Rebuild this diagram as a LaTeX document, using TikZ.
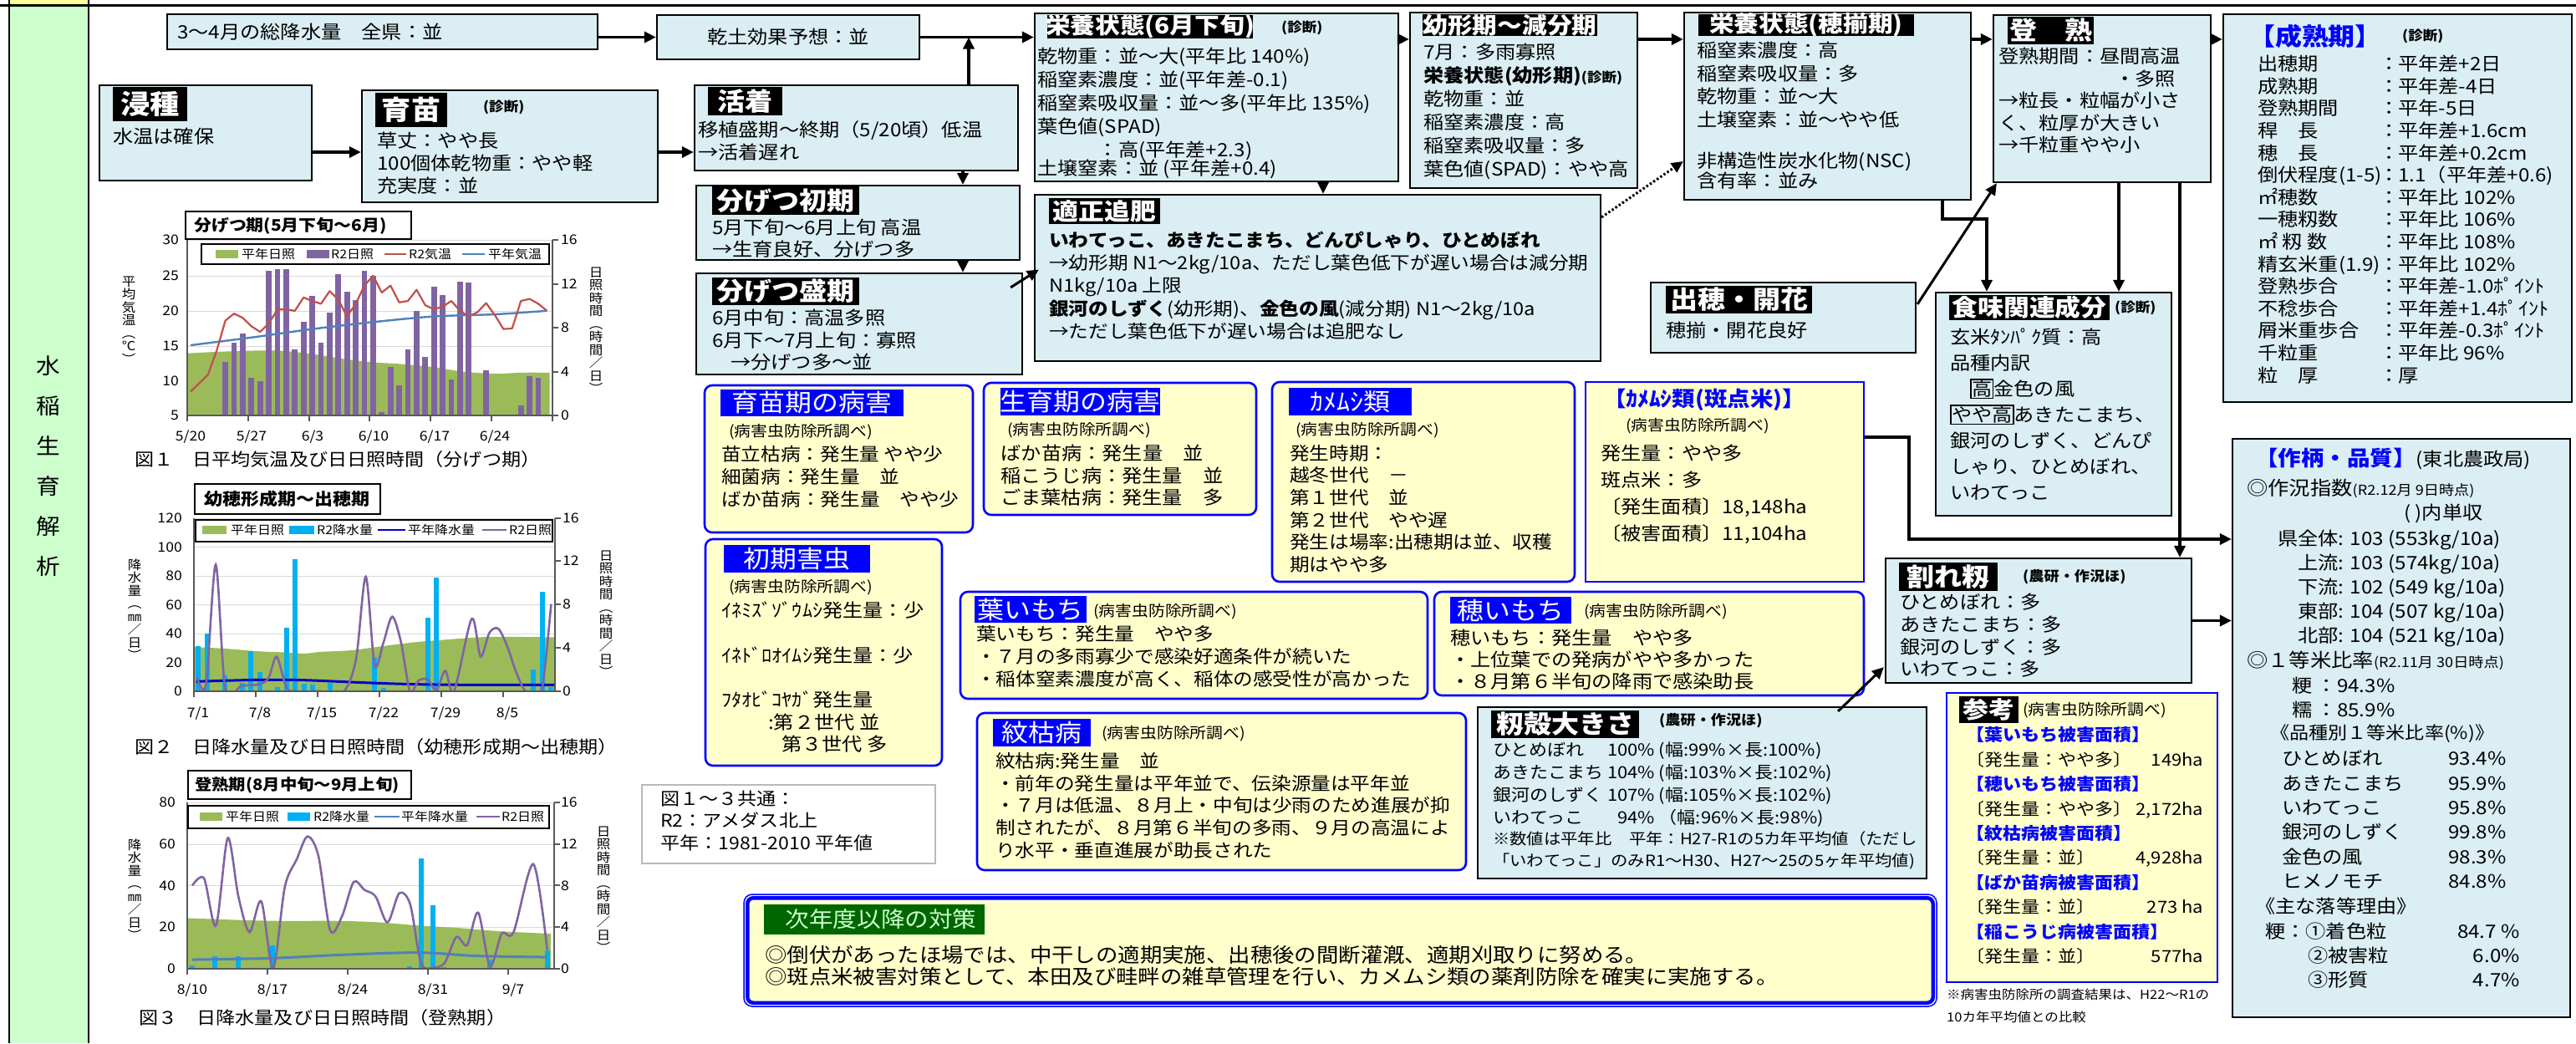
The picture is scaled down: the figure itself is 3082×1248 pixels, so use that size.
\documentclass[tikz,border=0pt]{standalone}
\usepackage{fontspec}
\setmainfont{Noto Sans CJK JP}[FakeStretch=1.1]
\usetikzlibrary{arrows.meta,fit,calc}
\definecolor{boxblue}{HTML}{DAEEF3}
\definecolor{yel}{HTML}{FFFFCC}
\definecolor{gcol}{HTML}{CCFFCC}
\definecolor{topyel}{HTML}{FFFF99}
\definecolor{cgreen}{HTML}{9BBB59}
\definecolor{cpurple}{HTML}{8064A2}
\definecolor{cred}{HTML}{C0504D}
\definecolor{cblue}{HTML}{4F81BD}
\definecolor{ccyan}{HTML}{00B0F0}
\definecolor{cdblue}{HTML}{0000CC}
\definecolor{dgreen}{HTML}{006600}
\definecolor{gridc}{HTML}{D9D9D9}
\newcommand\fs[2]{\fontsize{#1}{#2}\selectfont}
\newcommand\st{\rule{0pt}{0.9em}}
\setlength\fboxsep{0.5pt}
\setlength\fboxrule{1.4pt}
% label: style, name, corner1, corner2, font, text
\newcommand\LB[6]{\node[#1, fit={(#3)(#4)}] (#2) {};
  \node[inner sep=0pt, text=white, font=#5] (#2-t) at (#2.center) {#6};}
\begin{document}
\begin{tikzpicture}[x=1pt,y=-1pt,
  bb/.style={draw=black, line width=2.2pt, fill=boxblue, inner sep=0pt},
  yb/.style={draw=blue, line width=2.6pt, fill=yel, inner sep=0pt, rounded corners=9pt},
  yr/.style={draw=blue, line width=2.6pt, fill=yel, inner sep=0pt},
  blab/.style={fill=black, inner sep=0pt},
  ulab/.style={fill=blue, inner sep=0pt},
  tx/.style={inner sep=0pt, anchor=north west, align=left, font=\fs{22}{27}},
  shin/.style={inner sep=0pt, font=\bfseries\fs{16}{18}},
  nk/.style={inner sep=0pt, font=\bfseries\fs{16.5}{18}},
  sm/.style={inner sep=0pt, anchor=west, font=\fs{18}{20}},
  arr/.style={line width=3.5pt, -{Triangle[length=14pt,width=13pt]}},
  axl/.style={inner sep=0pt, font=\fs{16}{18}},
  lgt/.style={inner sep=0pt, anchor=west, font=\fs{14.5}{16}},
  vtt/.style={inner sep=0pt, align=center, font=\fs{15}{15.5}},
  ctitle/.style={draw=black, line width=1.5pt, fill=white, inner sep=0pt},
  figcap/.style={inner sep=0pt, anchor=west, font=\fs{21}{23}}
]
\useasboundingbox (0,0) rectangle (3082,1248);
\fill[white] (0,0) rectangle (3082,1248);
% frame
\fill[topyel] (11,0) rectangle (106,6);
\fill[gcol] (11,7) rectangle (106,1248);
\draw[line width=2.4pt] (0,6.5) -- (3082,6.5);
\draw[line width=2pt] (11,0) -- (11,1248) (106,0) -- (106,1248);
\node[inner sep=0, align=center, font=\fs{26}{48}] (vt) at (58,558) {水\\稲\\生\\育\\解\\析};

% ===== light blue boxes =====
\node[bb, fit={(200,17)(715,59)}] (pr34) {};
\node[tx, anchor=west] (t-pr34) at (212,38) {3～4月の総降水量　全県：並};

\node[bb, fit={(786,18)(1100,71)}] (kando) {};
\node[tx, anchor=center] (t-kando) at (kando.center) {乾土効果予想：並};

\node[bb, fit={(119,102)(373,216)}] (shinshu) {};
\LB{blab}{l-shinshu}{135,104}{224,145}{\bfseries\fs{32}{34}}{浸種}
\node[tx, anchor=west] (t-shinshu) at (135,163) {水温は確保};

\node[bb, fit={(433,108)(787,242)}] (ikubyo) {};
\LB{blab}{l-ikubyo}{449,111}{535,152}{\bfseries\fs{32}{34}}{育苗}
\node[shin, anchor=west] (d-ikubyo) at (578,128) {(診断)};
\node[tx] (t-ikubyo) at (451,156.6) {\st 草丈：やや長\\100個体乾物重：やや軽\\充実度：並};

\node[bb, fit={(831,102)(1218,204)}] (katsu) {};
\LB{blab}{l-katsu}{847,104}{936,138}{\bfseries\fs{30}{32}}{活着}
\node[tx] (t-katsu) at (835,143.6) {\st 移植盛期～終期（5/20頃）低温\\→活着遅れ};

\node[bb, fit={(833,222)(1220,311)}] (bun1) {};
\LB{blab}{l-bun1}{852,223}{1028,257}{\bfseries\fs{30}{32}}{分げつ初期}
\node[tx, font=\fs{22}{26}] (t-bun1) at (852,260.6) {\st 5月下旬～6月上旬 高温\\→生育良好、分げつ多};

\node[bb, fit={(833,327)(1223,448)}] (bun2) {};
\LB{blab}{l-bun2}{852,332}{1028,365}{\bfseries\fs{30}{32}}{分げつ盛期}
\node[tx, font=\fs{22}{26.5}] (t-bun2) at (852,368.6) {\st 6月中旬：高温多照\\6月下～7月上旬：寡照\\\hspace*{22pt}→分げつ多～並};

\node[bb, fit={(1238,16)(1673,217)}] (eiyo1) {};
\LB{blab}{l-eiyo1}{1253,18}{1499,46}{\bfseries\fs{27}{29}}{栄養状態(6月下旬)}
\node[shin, anchor=west] (d-eiyo1) at (1533,33) {(診断)};
\node[tx, font=\fs{22}{28}] (t-eiyo1) at (1241,55.6) {\st 乾物重：並～大(平年比 140\%)\\稲窒素濃度：並(平年差-0.1)\\稲窒素吸収量：並～多(平年比 135\%)\\葉色値(SPAD)\\　　　：高(平年差+2.3)\\[-6pt]土壌窒素：並 (平年差+0.4)};

\node[bb, fit={(1687,15)(1959,225)}] (yokei) {};
\LB{blab}{l-yokei}{1702,17}{1911,43}{\bfseries\fs{27}{29}}{幼形期～減分期}
\node[tx, font=\fs{22}{28}] (t-yokei) at (1703,50.6) {\st 7月：多雨寡照\\{\bfseries 栄養状態(幼形期)}{\bfseries\fs{16}{28}(診断)}\\乾物重：並\\稲窒素濃度：高\\稲窒素吸収量：多\\葉色値(SPAD)：やや高};

\node[bb, fit={(2015,15)(2358,239)}] (hosoroi) {};
\LB{blab}{l-hosoroi}{2032,17}{2290,43}{\bfseries\fs{27}{29}}{栄養状態(穂揃期)}
\node[tx, font=\fs{22}{27.6}] (t-hosoroi) at (2030,48.6) {\st 稲窒素濃度：高\\稲窒素吸収量：多\\乾物重：並～大\\土壌窒素：並～やや低\\[21pt]非構造性炭水化物(NSC)\\[-3pt]含有率：並み};

\node[bb, fit={(2385,18)(2645,218)}] (tojuku) {};
\LB{blab}{l-tojuku}{2402,20}{2505,53}{\bfseries\fs{30}{32}}{登　熟}
\node[tx, font=\fs{22}{26.5}] (t-tojuku) at (2391,55.6) {\st 登熟期間：昼間高温\\\hspace*{139pt}・多照\\→粒長・粒幅が小さ\\く、粒厚が大きい\\→千粒重やや小};

\node[bb, fit={(2660,17)(3077,481)}] (seijuku) {};
\node[inner sep=0, anchor=west, text=blue, font=\bfseries\fs{29}{31}] (h-seijuku) at (2690,43) {【成熟期】};
\node[shin, anchor=west] (d-seijuku) at (2874,43) {(診断)};
\node[tx, font=\fs{22}{26.6}] (c1-seijuku) at (2701,64.6) {\st 出穂期\\成熟期\\登熟期間\\稈　長\\穂　長\\倒伏程度(1-5)\\㎡穂数\\一穂籾数\\㎡ 籾 数\\精玄米重(1.9)\\登熟歩合\\不稔歩合\\屑米重歩合\\千粒重\\粒　厚};
\node[tx, font=\fs{22}{26.6}] (c2-seijuku) at (2846,64.6) {\st ：\\：\\：\\：\\：\\：\\：\\：\\：\\：\\：\\：\\：\\：\\：};
\node[tx, font=\fs{22}{26.6}] (c3-seijuku) at (2869,64.6) {\st 平年差+2日\\平年差-4日\\平年-5日\\平年差+1.6cm\\平年差+0.2cm\\1.1（平年差+0.6)\\平年比 102\%\\平年比 106\%\\平年比 108\%\\平年比 102\%\\平年差-1.0ﾎﾟｲﾝﾄ\\平年差+1.4ﾎﾟｲﾝﾄ\\平年差-0.3ﾎﾟｲﾝﾄ\\平年比 96\%\\厚};

\node[bb, fit={(1238,233)(1915,432)}] (tekisei) {};
\LB{blab}{l-tekisei}{1255,237}{1388,268}{\bfseries\fs{28}{30}}{適正追肥}
\node[tx, font=\fs{21.5}{27.3}] (t-tekisei) at (1255,275.8) {\st{\bfseries いわてっこ、あきたこまち、どんぴしゃり、ひとめぼれ}\\→幼形期 N1～2kg/10a、ただし葉色低下が遅い場合は減分期\\N1kg/10a 上限\\{\bfseries 銀河のしずく}(幼形期)、{\bfseries 金色の風}(減分期) N1～2kg/10a\\→ただし葉色低下が遅い場合は追肥なし};

\node[bb, fit={(1975,338)(2292,422)}] (shusui) {};
\LB{blab}{l-shusui}{1993,342}{2168,375}{\bfseries\fs{30}{32}}{出穂・開花}
\node[tx, anchor=west] (t-shusui) at (1993,395) {穂揃・開花良好};

\node[bb, fit={(2316,350)(2598,617)}] (shokumi) {};
\LB{blab}{l-shokumi}{2332,353}{2524,383}{\bfseries\fs{28}{30}}{食味関連成分}
\node[shin, anchor=west] (d-shokumi) at (2530,368) {(診断)};
\node[tx, font=\fs{22}{31}] (t-shokumi) at (2333,391.6) {\st 玄米ﾀﾝﾊﾟｸ質：高\\品種内訳\\　\fbox{高}金色の風\\\fbox{やや高}あきたこまち、\\銀河のしずく、どんぴ\\しゃり、ひとめぼれ、\\いわてっこ};

\node[bb, fit={(2256,668)(2622,817)}] (ware) {};
\LB{blab}{l-ware}{2272,673}{2390,707}{\bfseries\fs{30}{32}}{割れ籾}
\node[nk, anchor=west] (d-ware) at (2420,690) {(農研・作況ほ)};
\node[tx, font=\fs{22}{26.7}] (t-ware) at (2273,708.6) {\st ひとめぼれ：多\\あきたこまち：多\\銀河のしずく：多\\いわてっこ：多};

\node[bb, fit={(1768,846)(2305,1051)}] (momi) {};
\LB{blab}{l-momi}{1784,850}{1961,883}{\bfseries\fs{30}{32}}{籾殻大きさ}
\node[nk, anchor=west] (d-momi) at (1985,862) {(農研・作況ほ)};
\node[tx, font=\fs{20}{26.7}] (t-momi) at (1786,886) {\begin{tabular}{@{}l@{\ }r@{\ }l@{}}ひとめぼれ&100\%&(幅:99\%×長:100\%)\\あきたこまち&104\%&(幅:103\%×長:102\%)\\銀河のしずく&107\%&(幅:105\%×長:102\%)\\いわてっこ&94\%&（幅:96\%×長:98\%)\end{tabular}};
\node[tx, font=\fs{18.5}{26.7}] (n-momi) at (1786,993.4) {\st ※数値は平年比　平年：H27-R1の5カ年平均値（ただし\\「いわてっこ」のみR1～H30、H27～25の5ヶ年平均値)};

\node[bb, fit={(2671,525)(3075,1217)}] (saku) {};
\node[tx, anchor=west, font=\fs{22}{25}] (h-saku) at (2698,549) {{\color{blue}\bfseries\fs{25}{27}【作柄・品質】}(東北農政局)};
\node[tx, anchor=west, font=\fs{23}{25}] (a1) at (2688,584) {◎作況指数{\fs{16.5}{20}(R2.12月 9日時点)}};
\node[tx, anchor=west, font=\fs{22}{25}] (a2) at (2876,614) {( )内単収};
\node[tx, font=\fs{22}{29}] (a3) at (2725,632.2) {\begin{tabular}{@{}r@{: }l@{}}県全体&103 (553kg/10a)\\上流&103 (574kg/10a)\\下流&102 (549 kg/10a)\\東部&104 (507 kg/10a)\\北部&104 (521 kg/10a)\end{tabular}};
\node[tx, anchor=west, font=\fs{23}{25}] (a4) at (2688,790) {◎１等米比率{\fs{16.5}{20}(R2.11月 30日時点)}};
\node[tx, font=\fs{22}{29}] (a5) at (2742,808.6) {\st 粳 ：94.3\%\\糯 ：85.9\%};
\node[tx, anchor=west, font=\fs{21}{25}] (a6) at (2716,878) {《品種別１等米比率(\%)》};
\node[tx, font=\fs{22}{29.4}] (a7) at (2730,895.6) {\st ひとめぼれ\\あきたこまち\\いわてっこ\\銀河のしずく\\金色の風\\ヒメノモチ};
\node[tx, font=\fs{22}{29.4}] (a8) at (2929,895.6) {\st 93.4\%\\95.9\%\\95.8\%\\99.8\%\\98.3\%\\84.8\%};
\node[tx, anchor=west, font=\fs{22}{25}] (a9) at (2698,1084) {《主な落等理由》};
\node[tx, font=\fs{22}{29}] (a10) at (2710,1102.6) {\st 粳：①着色粒\\\hspace*{51pt}②被害粒\\\hspace*{51pt}③形質};
\node[tx, anchor=north east, align=right, font=\fs{22}{29}] (a11) at (3015,1102.6) {\st 84.7 \%\\6.0\%\\4.7\%};

% ===== yellow boxes =====
\node[yb, fit={(843,461)(1164,637)}] (ikb) {};
\LB{ulab}{l-ikb}{862,466}{1081,498}{\fs{29}{31}}{育苗期の病害}
\node[sm] (s-ikb) at (872,517) {(病害虫防除所調べ)};
\node[tx, font=\fs{21.5}{27}] (t-ikb) at (863,531.8) {\st 苗立枯病：発生量 やや少\\細菌病：発生量　並\\ばか苗病：発生量　やや少};

\node[yb, fit={(1177,458)(1503,616)}] (sib) {};
\LB{ulab}{l-sib}{1197,464}{1388,497}{\fs{29}{31}}{生育期の病害}
\node[sm] (s-sib) at (1205,515) {(病害虫防除所調べ)};
\node[tx, font=\fs{22}{26.5}] (t-sib) at (1197,530.6) {\st ばか苗病：発生量　並\\稲こうじ病：発生量　並\\ごま葉枯病：発生量　多};

\node[yb, fit={(1522,457)(1884,696)}] (kmm) {};
\LB{ulab}{l-kmm}{1542,464}{1689,497}{\fs{29}{31}}{ｶﾒﾑｼ類}
\node[sm] (s-kmm) at (1550,515) {(病害虫防除所調べ)};
\node[tx, font=\fs{21.5}{26.6}] (t-kmm) at (1543,530.8) {\st 発生時期：\\越冬世代　－\\第１世代　並\\第２世代　やや遅\\発生は場率:出穂期は並、収穫\\期はやや多};

\node[yr, fit={(1897,457)(2230,696)}] (hanten) {};
\node[inner sep=0, anchor=west, text=blue, font=\bfseries\fs{25}{27}] (h-hanten) at (1918,478) {【ｶﾒﾑｼ類(斑点米)】};
\node[sm] (s-hanten) at (1945,510) {(病害虫防除所調べ)};
\node[tx, font=\fs{22}{32}] (t-hanten) at (1915,530.6) {\st 発生量：やや多\\斑点米：多\\〔発生面積〕18,148ha\\〔被害面積〕11,104ha};

\node[yb, fit={(844,645)(1127,916)}] (shoki) {};
\LB{ulab}{l-shoki}{866,652}{1041,685}{\fs{29}{31}}{初期害虫}
\node[sm] (s-shoki) at (872,703) {(病害虫防除所調べ)};
\node[tx, font=\fs{22}{26.7}] (t-shoki) at (863,718.6) {\st ｲﾈﾐｽﾞｿﾞｳﾑｼ発生量：少\\ \\ｲﾈﾄﾞﾛｵｲﾑｼ発生量：少\\ \\ﾌﾀｵﾋﾞｺﾔｶﾞ発生量\\\hspace*{56pt}:第２世代 並\\\hspace*{72pt}第３世代 多};

\node[yb, fit={(1149,708)(1708,836)}] (hai) {};
\LB{ulab}{l-hai}{1166,713}{1300,745}{\fs{29}{31}}{葉いもち}
\node[sm] (s-hai) at (1308,732) {(病害虫防除所調べ)};
\node[tx, font=\fs{21.5}{27}] (t-hai) at (1168,746.8) {\st 葉いもち：発生量　やや多\\・７月の多雨寡少で感染好適条件が続いた\\・稲体窒素濃度が高く、稲体の感受性が高かった};

\node[yb, fit={(1716,708)(2230,832)}] (hoi) {};
\LB{ulab}{l-hoi}{1735,714}{1880,746}{\fs{29}{31}}{穂いもち}
\node[sm] (s-hoi) at (1895,732) {(病害虫防除所調べ)};
\node[tx, font=\fs{22}{26}] (t-hoi) at (1735,751.6) {\st 穂いもち：発生量　やや多\\・上位葉での発病がやや多かった\\・８月第６半旬の降雨で感染助長};

\node[yb, fit={(1169,853)(1754,1041)}] (mon) {};
\LB{ulab}{l-mon}{1188,860}{1305,893}{\fs{29}{31}}{紋枯病}
\node[sm] (s-mon) at (1318,878) {(病害虫防除所調べ)};
\node[tx, font=\fs{21.5}{26.8}] (t-mon) at (1191,898.8) {\st 紋枯病:発生量　並\\・前年の発生量は平年並で、伝染源量は平年並\\・７月は低温、８月上・中旬は少雨のため進展が抑\\制されたが、８月第６半旬の多雨、９月の高温によ\\り水平・垂直進展が助長された};

\node[yr, fit={(2329,829)(2653,1175)}] (sanko) {};
\LB{blab}{l-sanko}{2344,833}{2415,865}{\bfseries\fs{28}{30}}{参考}
\node[sm] (s-sanko) at (2420,850) {(病害虫防除所調べ)};
\node[tx, font=\fs{20}{29.4}] (t-sanko) at (2352,868.6) {\st{\color{blue}\bfseries【葉いもち被害面積】}\\\makebox[284pt][l]{〔発生量：やや多〕\hfill 149ha}\\{\color{blue}\bfseries【穂いもち被害面積】}\\\makebox[284pt][l]{〔発生量：やや多〕\hfill 2,172ha}\\{\color{blue}\bfseries【紋枯病被害面積】}\\\makebox[284pt][l]{〔発生量：並〕\hfill 4,928ha}\\{\color{blue}\bfseries【ばか苗病被害面積】}\\\makebox[284pt][l]{〔発生量：並〕\hfill 273 ha}\\{\color{blue}\bfseries【稲こうじ病被害面積】}\\\makebox[284pt][l]{〔発生量：並〕\hfill 577ha}};
\node[tx, font=\fs{15}{27}] (fn) at (2329,1182.2) {\st ※病害虫防除所の調査結果は、H22～R1の\\10カ年平均値との比較};

\node[draw=gray!55, line width=1.5pt, fill=white, inner sep=0, fit={(768,939)(1119,1033)}] (fig13) {};
\node[tx, font=\fs{21}{26.5}] (t-fig13) at (790,944.1) {\st 図１～３共通：\\R2：アメダス北上\\平年：1981-2010 平年値};

\node[draw=blue, line width=1.5pt, rounded corners=10pt, fill=yel, inner sep=0, fit={(890,1070)(2317,1204)}] (taisaku) {};
\draw[blue, line width=4.5pt, rounded corners=7pt] ($(taisaku.north west)+(5,5)$) rectangle ($(taisaku.south east)+(-5,-5)$);
\node[fill=dgreen, inner sep=0, fit={(914,1082)(1178,1118)}] (l-taisaku) {};
\node[inner sep=0, text=gcol, font=\fs{26}{28}] (l-taisaku-t) at ($(l-taisaku.center)+(8,0)$) {次年度以降の対策};
\node[tx, font=\fs{24}{26}] (t-taisaku) at (915,1129.5) {\st ◎倒伏があったほ場では、中干しの適期実施、出穂後の間断灌漑、適期刈取りに努める。\\◎斑点米被害対策として、本田及び畦畔の雑草管理を行い、カメムシ類の薬剤防除を確実に実施する。};

% ===== connectors =====
\coordinate (j1) at (1159,44.5);
\coordinate (xk) at (1152,0);
\coordinate (xe) at (1583,0);
\coordinate (ya) at (0,47);
\coordinate (xh1) at (2324,262);
\coordinate (xh2) at (2377,262);
\coordinate (xt1) at (2535,0);
\coordinate (xt2) at (2608,0);
\coordinate (h1) at (2284,523);
\coordinate (h2) at (2284,645);
\coordinate (a-shin) at ($(shinshu.east)+(0,23)$);
\coordinate (a-iku) at ($(ikubyo.east)+(0,7)$);
\draw[arr] (pr34.east |- kando.west) -- (kando.west);
\draw[arr] (kando.east) -- (kando.east -| eiyo1.west);
\draw[arr] (katsu.north -| j1) -- (j1);
\draw[arr] (a-shin) -- (a-shin -| ikubyo.west);
\draw[arr] (a-iku) -- (a-iku -| katsu.west);
\draw[arr] (katsu.south -| xk) -- (bun1.north -| xk);
\draw[arr] (bun1.south -| xk) -- (bun2.north -| xk);
\draw[arr, line width=3pt] ($(bun2.north east)+(-15,18)$) -- ($(tekisei.west)+(6,-10)$);
\draw[arr] (eiyo1.south -| xe) -- (tekisei.north -| xe);
\draw[arr] (eiyo1.east |- ya) -- (yokei.west |- ya);
\draw[arr] (yokei.east |- ya) -- (hosoroi.west |- ya);
\draw[arr] (hosoroi.east |- ya) -- (tojuku.west |- ya);
\draw[arr] (tojuku.east |- ya) -- (seijuku.west |- ya);
\draw[arr, line width=3pt, dash pattern=on 2.5pt off 2.5pt] ($(tekisei.north east)+(0,28)$) -- ($(hosoroi.west)+(0,66)$);
\draw[arr] (hosoroi.south -| xh1) -- (xh1) -- (xh2) -- (shokumi.north -| xh2);
\draw[arr, line width=3pt] ($(shusui.north east)+(1,27)$) -- ($(tojuku.south west)+(5,0)$);
\draw[arr] (tojuku.south -| xt1) -- (shokumi.north -| xt1);
\draw[arr] (tojuku.south -| xt2) -- (ware.north -| xt2);
\draw[arr] (hanten.east |- h1) -- (h1) -- (h2) -- (saku.west |- h2);
\draw[arr] (ware.east) -- (ware.east -| saku.west);
\draw[arr, line width=3pt] ($(momi.north east)+(-107,6)$) -- ($(ware.south west)+(-1,-20)$);

% ===== chart 1 =====
\node[ctitle, fit={(222,253)(492,286)}] (c1t) {};
\node[inner sep=0, anchor=west, font=\bfseries\fs{19}{21}] (c1tt) at (232,270) {分げつ期(5月下旬～6月)};
\foreach \yy in {287,330,372,414,456} \draw[gridc, line width=1pt] (224,\yy) -- (661,\yy);
\begin{scope}
\clip (224,280) rectangle (661,497);
\begin{scope}[shift={(228,497)}, x=10.4pt, y=13.125pt]
 \fill[cgreen] (-0.4,0) -- plot[smooth] coordinates {(-0.4,5.66)(3.1,5.8)(6.9,5.9)(10.3,5.9)(14,5.6)(17.6,5.15)(21,4.84)(24,4.7)(28,4.4)(31.2,4.0)(35,3.8)(38,3.9)(41.3,3.9)} -- (41.3,0) -- cycle;
 \foreach \i/\h in {4/4.84,5/6.62,6/7.5,7/3.44,8/3.13,9/13.2,10/13.3,11/13.3,12/6.0,13/8.5,14/10.9,15/6.6,16/9.4,17/12.9,18/11.3,19/10.5,20/13.2,21/12.7,22/0.33,23/4.4,24/2.75,25/6.0,26/9.5,27/5.35,28/11.7,29/11.0,30/3.26,31/12.2,32/12.1,34/4.1,38/0.94,39/3.6,40/3.44}
   \fill[cpurple] (\i-0.33,0) rectangle (\i+0.33,\h);
\end{scope}
\begin{scope}[shift={(228,539)}, x=10.4pt, y=8.4pt]
 \draw[cblue, line width=2.4pt] plot[smooth] coordinates {(0,15)(7,16.1)(14,17.3)(21,18.3)(28,19.1)(35,19.4)(41,19.9)};
 \draw[cred, line width=2.2pt, line join=round] plot coordinates {(0,8.4)(1,9.6)(2,10.8)(3,14.2)(4,18.5)(5,19.5)(6,18.9)(7,17.7)(8,16.9)(9,18.1)(10,20.1)(11,20.1)(12,19.9)(13,21.8)(14,21.3)(15,20.9)(16,22.7)(17,21.5)(18,19.1)(19,20.9)(20,23.5)(21,24.9)(22,22.5)(23,23.5)(24,21.1)(25,21.3)(26,22.9)(27,20.7)(28,20.1)(29,20.5)(30,21.3)(31,19.9)(32,19.1)(33,19.7)(34,21.0)(35,19.3)(36,17.3)(37,17.4)(38,21.3)(39,21.6)(40,20.9)(41,19.9)};
\end{scope}
\end{scope}
\draw[line width=1.2pt, black!65] (224,287) -- (224,497) -- (661,497) -- (661,287);
\foreach \yy in {287,340,392,445,497} \draw[line width=1.2pt, black!65] (661,\yy) -- (668,\yy);
\foreach \xx in {224,297,370,442,515,588,661} \draw[line width=1.2pt, black!65] (\xx,497) -- (\xx,504);
\node[draw=black, line width=1.2pt, fill=white, inner sep=0, fit={(241,292)(657,316)}] (c1leg) {};
\fill[cgreen] (258,299) rectangle (285,309);
\node[lgt] (c1l1) at (289,304) {平年日照};
\fill[cpurple] (367,299) rectangle (394,309);
\node[lgt] (c1l2) at (396,304) {R2日照};
\draw[cred, line width=2.4pt] (460,304) -- (486,304);
\node[lgt] (c1l3) at (489,304) {R2気温};
\draw[cblue, line width=2.4pt] (553,304) -- (580,304);
\node[lgt] (c1l4) at (584,304) {平年気温};
\foreach \v/\yy in {30/287,25/330,20/372,15/414,10/456,5/497} \node[axl, anchor=east] (c1y\v) at (214,\yy) {\v};
\foreach \v/\yy in {16/287,12/340,8/392,4/445,0/497} \node[axl, anchor=west] (c1r\v) at (671,\yy) {\v};
\foreach \xx/\mm/\dd in {228/5/20,301/5/27,374/6/3,447/6/10,520/6/17,592/6/24} \node[axl] (c1x\xx) at (\xx,523) {\mm/\dd};
\node[vtt] (c1yl) at (154,383) {平\\均\\気\\温\\︵\\℃\\︶};
\node[vtt] (c1yr) at (713,395) {日\\照\\時\\間\\︵\\時\\間\\／\\日\\︶};
\node[figcap] (c1cap) at (161,550) {図１　日平均気温及び日日照時間（分げつ期）};

% ===== chart 2 =====
\node[ctitle, fit={(233,579)(455,615)}] (c2t) {};
\node[inner sep=0, anchor=west, font=\bfseries\fs{20}{22}] (c2tt) at (244,597) {幼穂形成期～出穂期};
\foreach \yy in {620,654.5,689,723.5,758,792.5} \draw[gridc, line width=1pt] (232,\yy) -- (664,\yy);
\begin{scope}
\clip (232,610) rectangle (664,827);
\begin{scope}[shift={(237,827)}, x=10.56pt, y=12.94pt]
 \fill[cgreen] (-0.5,0) -- plot[smooth] coordinates {(-0.5,4.09)(3.1,3.94)(6.7,3.70)(10.3,3.58)(12.1,3.49)(13.9,3.64)(17.4,3.79)(21,4.18)(24.6,4.54)(28.2,4.78)(31.7,4.99)(34.4,5.04)(40.5,4.99)} -- (40.5,0) -- cycle;
\end{scope}
\begin{scope}[shift={(237,827)}, x=10.56pt, y=1.725pt]
 \foreach \i/\p in {0/31.5,1/39.9,3/11.3,5/6,6/28,7/13.5,9/2.7,10/44,11/91.7,12/5,13/4.5,15/6,20/24,21/2.3,26/51,27/78.6,38/15,39/69,40/2.7}
   \fill[ccyan] (\i-0.28,0) rectangle (\i+0.28,\p);
 \draw[cdblue, line width=3pt] plot[smooth] coordinates {(-0.2,6.8)(6.7,7.9)(12.1,7.7)(18.3,6.1)(23.6,5.0)(29.5,4.5)(40.5,4.5)};
\end{scope}
\begin{scope}[shift={(237,827)}, x=10.56pt, y=12.94pt]
 \draw[cpurple, line width=2.6pt] plot[smooth] coordinates {(-0.1,1.25)(0.9,0.66)(2,11.7)(3.1,0.06)(4.9,0.5)(7,0.66)(8,1.25)(8.9,3.2)(10,0.36)(11,0)(13.9,0)(16.5,0)(17.9,3.0)(19,10.6)(20,2.4)(21,4.5)(22,6.9)(23,4.5)(24,0)(25,1.0)(26,1.1)(27,0.1)(28,1.9)(29,0)(31,6.7)(32,3.2)(33,5.4)(34,5.8)(35,4.2)(36,1.85)(37,0.1)(38,0)(39,0.36)(40,8.06)};
\end{scope}
\end{scope}
\draw[line width=1.2pt, black!65] (232,620) -- (232,827) -- (664,827) -- (664,620);
\foreach \yy in {620,671,723,775,827} \draw[line width=1.2pt, black!65] (664,\yy) -- (671,\yy);
\foreach \xx in {232,306,380,454,528,602} \draw[line width=1.2pt, black!65] (\xx,827) -- (\xx,834);
\node[draw=black, line width=1.2pt, fill=white, inner sep=0, fit={(234,622)(661,648)}] (c2leg) {};
\fill[cgreen] (242,629) rectangle (271,639);
\node[lgt] (c2l1) at (276,634) {平年日照};
\fill[ccyan] (346,629) rectangle (376,639);
\node[lgt] (c2l2) at (379,634) {R2降水量};
\draw[cdblue, line width=2.6pt] (452,634) -- (485,634);
\node[lgt] (c2l3) at (488,634) {平年降水量};
\draw[cpurple, line width=2.6pt] (577,634) -- (606,634);
\node[lgt] (c2l4) at (609,634) {R2日照};
\foreach \v/\yy in {120/620,100/655,80/689,60/723.5,40/758,20/792.5,0/827} \node[axl, anchor=east] (c2y\v) at (218,\yy) {\v};
\foreach \v/\yy in {16/620,12/671,8/723,4/775,0/827} \node[axl, anchor=west] (c2r\v) at (673,\yy) {\v};
\foreach \xx/\mm/\dd in {237/7/1,311/7/8,385/7/15,459/7/22,533/7/29,607/8/5} \node[axl] (c2x\xx) at (\xx,854) {\mm/\dd};
\node[vtt] (c2yl) at (161,729) {降\\水\\量\\︵\\㎜\\／\\日\\︶};
\node[vtt] (c2yr) at (725,734) {日\\照\\時\\間\\︵\\時\\間\\／\\日\\︶};
\node[figcap] (c2cap) at (161,894) {図２　日降水量及び日日照時間（幼穂形成期～出穂期）};

% ===== chart 3 =====
\node[ctitle, fit={(225,922)(492,956)}] (c3t) {};
\node[inner sep=0, anchor=west, font=\bfseries\fs{18.5}{21}] (c3tt) at (233,939) {登熟期(8月中旬～9月上旬)};
\foreach \yy in {960,1010,1059,1109} \draw[gridc, line width=1pt] (224,\yy) -- (663,\yy);
\begin{scope}
\clip (224,950) rectangle (663,1159);
\begin{scope}[shift={(230,1159)}, x=13.7pt, y=12.44pt]
 \fill[cgreen] (-0.4,0) -- plot[smooth] coordinates {(-0.4,4.87)(4.3,4.68)(7.7,4.6)(12.9,4.6)(16.4,4.46)(19.8,4.15)(23.2,3.93)(26.7,3.62)(31.3,3.37)} -- (31.3,0) -- cycle;
\end{scope}
\begin{scope}[shift={(230,1159)}, x=13.7pt, y=2.4875pt]
 \foreach \i/\p in {0/1.6,2/6.2,4/6.2,7/11.4,19/1.2,20/53,21/30.6,22/0.9,26/4.4,31/8.7}
   \fill[ccyan] (\i-0.22,0) rectangle (\i+0.22,\p);
 \draw[cblue, line width=3pt] plot[smooth] coordinates {(0,4.4)(7,5.1)(13,6.7)(19.8,7.8)(24.8,6.2)(31,5.6)};
\end{scope}
\begin{scope}[shift={(230,1159)}, x=13.7pt, y=12.44pt]
 \draw[cpurple, line width=2.6pt] plot[smooth] coordinates {(0,8.0)(1.03,8.7)(2.07,4.15)(3.1,12.57)(4.03,6.96)(5,3.52)(6.03,6.49)(7.06,0)(8.09,7.89)(9.13,10.54)(10.06,12.73)(11.02,10.85)(12.05,3.68)(13.09,5.08)(14.1,8.36)(15.05,7.58)(16.01,6.96)(17.05,4.46)(18.08,7.27)(19.04,6.18)(19.97,0.56)(21,0.1)(22.04,0.56)(23.07,3.06)(24,2.28)(24.97,5.4)(26,0.25)(27.03,3.37)(28.06,3.52)(29.79,10.07)(31,1.81)};
\end{scope}
\end{scope}
\draw[line width=1.2pt, black!65] (224,960) -- (224,1159) -- (663,1159) -- (663,960);
\foreach \yy in {960,1010,1059,1109,1159} \draw[line width=1.2pt, black!65] (663,\yy) -- (670,\yy);
\foreach \xx in {224,320,416,512,608} \draw[line width=1.2pt, black!65] (\xx,1159) -- (\xx,1166);
\node[draw=black, line width=1.2pt, fill=white, inner sep=0, fit={(225,964)(657,991)}] (c3leg) {};
\fill[cgreen] (239,972) rectangle (266,982);
\node[lgt] (c3l1) at (270,977) {平年日照};
\fill[ccyan] (344,972) rectangle (371,982);
\node[lgt] (c3l2) at (375,977) {R2降水量};
\draw[cblue, line width=2.6pt] (448,977) -- (478,977);
\node[lgt] (c3l3) at (480,977) {平年降水量};
\draw[cpurple, line width=2.6pt] (570,977) -- (598,977);
\node[lgt] (c3l4) at (600,977) {R2日照};
\foreach \v/\yy in {80/960,60/1010,40/1060,20/1109,0/1159} \node[axl, anchor=east] (c3y\v) at (210,\yy) {\v};
\foreach \v/\yy in {16/960,12/1010,8/1060,4/1109,0/1159} \node[axl, anchor=west] (c3r\v) at (671,\yy) {\v};
\foreach \xx/\mm/\dd in {230/8/10,326/8/17,422/8/24,518/8/31,614/9/7} \node[axl] (c3x\xx) at (\xx,1185) {\mm/\dd};
\node[vtt] (c3yl) at (161,1064) {降\\水\\量\\︵\\㎜\\／\\日\\︶};
\node[vtt] (c3yr) at (722,1064) {日\\照\\時\\間\\︵\\時\\間\\／\\日\\︶};
\node[figcap] (c3cap) at (166,1218) {図３　日降水量及び日日照時間（登熟期）};
\end{tikzpicture}
\end{document}
